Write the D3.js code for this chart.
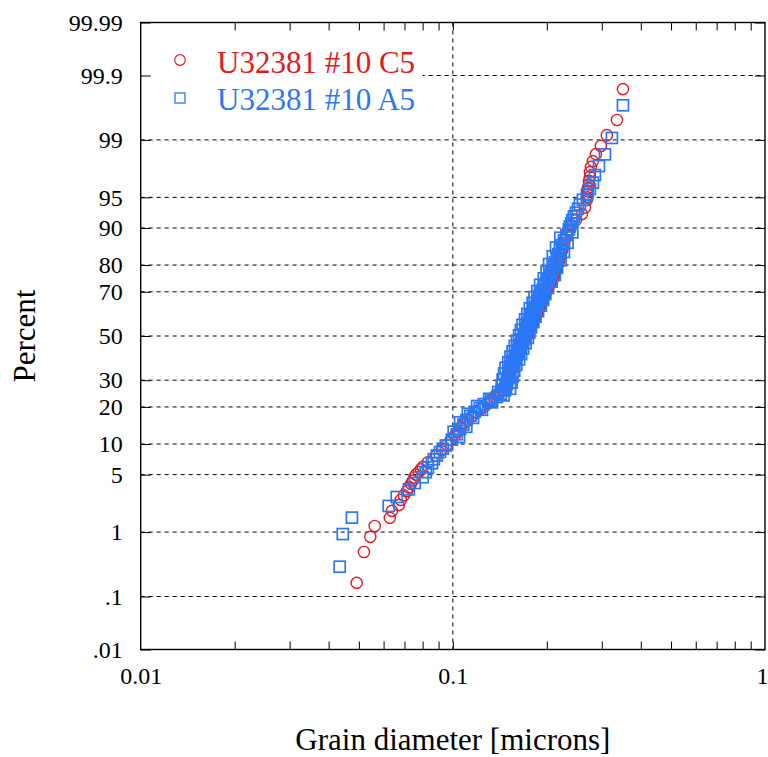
<!DOCTYPE html>
<html>
<head>
<meta charset="utf-8">
<script src="https://cdn.jsdelivr.net/npm/d3@7"></script>
<style>
	body { margin: 0; background: #fff; }
</style>
</head>
<body>
<div id="chart"></div>
<script>
// Sample C5 (red circles): grain diameter [microns] and cumulative percent
var redDiameter = [0.0492, 0.0519, 0.0544, 0.0562, 0.0628, 0.0638, 0.0671, 0.0681, 0.0697, 0.0712,
	0.0723, 0.0734, 0.0744, 0.0753, 0.0761, 0.0778, 0.0790, 0.0801, 0.0832, 0.0882,
	0.0922, 0.0957, 0.0985, 0.1015, 0.1038, 0.1061, 0.1085, 0.1117, 0.1151, 0.1185,
	0.1220, 0.1257, 0.1295, 0.1324, 0.1353, 0.1384, 0.1415, 0.1436, 0.1457, 0.1479,
	0.1501, 0.1523, 0.1500, 0.1517, 0.1534, 0.1545, 0.1557, 0.1569, 0.1580, 0.1592,
	0.1604, 0.1616, 0.1627, 0.1640, 0.1652, 0.1664, 0.1676, 0.1688, 0.1701, 0.1713,
	0.1726, 0.1739, 0.1752, 0.1765, 0.1778, 0.1792, 0.1805, 0.1818, 0.1832, 0.1845,
	0.1858, 0.1873, 0.1887, 0.1900, 0.1914, 0.1929, 0.1943, 0.1957, 0.1972, 0.1986,
	0.2001, 0.2023, 0.2046, 0.2068, 0.2092, 0.2107, 0.2122, 0.2138, 0.2155, 0.2170,
	0.2186, 0.2202, 0.2219, 0.2236, 0.2251, 0.2269, 0.2286, 0.2311, 0.2336, 0.2400,
	0.2479, 0.2591, 0.2649, 0.2688, 0.2698, 0.2708, 0.2708, 0.2708, 0.2728, 0.2728,
	0.2749, 0.2749, 0.2769, 0.2810, 0.2873, 0.2980, 0.3114, 0.3355, 0.3507];
var redPercent = [0.17, 0.52, 0.86, 1.21, 1.55, 1.90, 2.24, 2.59, 2.93, 3.28,
	3.62, 3.97, 4.31, 4.66, 5.00, 5.34, 5.69, 6.03, 6.72, 7.76,
	8.79, 9.83, 10.86, 11.90, 12.93, 13.97, 15.00, 16.03, 17.07, 18.10,
	19.14, 20.17, 21.21, 22.24, 23.28, 24.31, 25.34, 26.38, 27.41, 28.45,
	29.48, 30.52, 31.55, 32.59, 33.62, 34.66, 35.69, 36.72, 37.76, 38.79,
	39.83, 40.86, 41.90, 42.93, 43.97, 45.00, 46.03, 47.07, 48.10, 49.14,
	50.17, 51.21, 52.24, 53.28, 54.31, 55.34, 56.38, 57.41, 58.45, 59.48,
	60.52, 61.55, 62.59, 63.62, 64.66, 65.69, 66.72, 67.76, 68.79, 69.83,
	70.86, 71.90, 72.93, 73.97, 75.00, 76.03, 77.07, 78.10, 79.14, 80.17,
	81.21, 82.24, 83.28, 84.31, 85.34, 86.38, 87.41, 88.45, 89.48, 90.52,
	91.55, 92.59, 93.62, 94.66, 95.00, 95.34, 95.69, 96.03, 96.38, 96.72,
	97.07, 97.41, 97.76, 98.10, 98.45, 98.79, 99.14, 99.48, 99.83];

// Sample A5 (blue squares)
var blueDiameter = [0.0434, 0.0444, 0.0475, 0.0623, 0.0661, 0.0723, 0.0755, 0.0801, 0.0819, 0.0832,
	0.0857, 0.0869, 0.0889, 0.0909, 0.0929, 0.0950, 0.0993, 0.1047, 0.1030, 0.1006,
	0.1053, 0.1104, 0.1081, 0.1055, 0.1105, 0.1161, 0.1138, 0.1117, 0.1176, 0.1240,
	0.1220, 0.1196, 0.1257, 0.1336, 0.1324, 0.1307, 0.1384, 0.1454, 0.1425, 0.1396,
	0.1468, 0.1525, 0.1479, 0.1433, 0.1490, 0.1542, 0.1490, 0.1444, 0.1501, 0.1556,
	0.1506, 0.1459, 0.1517, 0.1573, 0.1523, 0.1475, 0.1534, 0.1597, 0.1551, 0.1505,
	0.1569, 0.1630, 0.1580, 0.1530, 0.1592, 0.1654, 0.1604, 0.1554, 0.1616, 0.1679,
	0.1628, 0.1580, 0.1646, 0.1710, 0.1658, 0.1606, 0.1670, 0.1739, 0.1689, 0.1630,
	0.1689, 0.1757, 0.1707, 0.1651, 0.1714, 0.1780, 0.1726, 0.1672, 0.1739, 0.1810,
	0.1759, 0.1704, 0.1772, 0.1841, 0.1785, 0.1732, 0.1805, 0.1875, 0.1818, 0.1764,
	0.1838, 0.1914, 0.1859, 0.1801, 0.1873, 0.1946, 0.1886, 0.1827, 0.1900, 0.1978,
	0.1922, 0.1865, 0.1943, 0.2018, 0.1957, 0.1903, 0.1987, 0.2072, 0.2016, 0.1956,
	0.2038, 0.2122, 0.2061, 0.1997, 0.2076, 0.2157, 0.2092, 0.2034, 0.2123, 0.2214,
	0.2154, 0.2090, 0.2178, 0.2268, 0.2203, 0.2141, 0.2235, 0.2331, 0.2269, 0.2210,
	0.2311, 0.2415, 0.2354, 0.2371, 0.2398, 0.2416, 0.2442, 0.2479, 0.2516, 0.2553,
	0.2610, 0.2688, 0.2749, 0.2810, 0.2852, 0.2938, 0.3071, 0.3233, 0.3507];
var bluePercent = [0.31, 0.94, 1.56, 2.19, 2.81, 3.44, 4.06, 4.69, 5.31, 5.94,
	6.56, 7.19, 7.81, 8.44, 9.06, 9.69, 10.94, 11.56, 12.19, 12.81,
	13.44, 14.06, 14.69, 15.31, 15.94, 16.56, 17.19, 17.81, 18.44, 19.06,
	19.69, 20.31, 20.94, 21.56, 22.19, 22.81, 23.44, 24.06, 24.69, 25.31,
	25.94, 26.56, 27.19, 27.81, 28.44, 29.06, 29.69, 30.31, 30.94, 31.56,
	32.19, 32.81, 33.44, 34.06, 34.69, 35.31, 35.94, 36.56, 37.19, 37.81,
	38.44, 39.06, 39.69, 40.31, 40.94, 41.56, 42.19, 42.81, 43.44, 44.06,
	44.69, 45.31, 45.94, 46.56, 47.19, 47.81, 48.44, 49.06, 49.69, 50.31,
	50.94, 51.56, 52.19, 52.81, 53.44, 54.06, 54.69, 55.31, 55.94, 56.56,
	57.19, 57.81, 58.44, 59.06, 59.69, 60.31, 60.94, 61.56, 62.19, 62.81,
	63.44, 64.06, 64.69, 65.31, 65.94, 66.56, 67.19, 67.81, 68.44, 69.06,
	69.69, 70.31, 70.94, 71.56, 72.19, 72.81, 73.44, 74.06, 74.69, 75.31,
	75.94, 76.56, 77.19, 77.81, 78.44, 79.06, 79.69, 80.31, 80.94, 81.56,
	82.19, 82.81, 83.44, 84.06, 84.69, 85.31, 85.94, 86.56, 87.19, 87.81,
	88.44, 89.06, 89.69, 90.31, 90.94, 91.56, 92.19, 92.81, 93.44, 94.06,
	94.69, 95.31, 95.94, 96.56, 97.19, 97.81, 98.44, 99.06, 99.69];

// legend names
var seriesNames = ["U32381 #10 C5", "U32381 #10 A5"];

// y ticks (percent) and their labels
var yTicks = [99.99, 99.9, 99, 95, 90, 80, 70, 50, 30, 20, 10, 5, 1, 0.1, 0.01];
var yLabels = ["99.99", "99.9", "99", "95", "90", "80", "70", "50", "30", "20", "10", "5", "1", ".1", ".01"];
var yGrid = [99.9, 99, 95, 90, 80, 70, 50, 30, 20, 10, 5, 1, 0.1];

// x ticks
var xMajor = [0.01, 0.1, 1];
var xLabels = ["0.01", "0.1", "1"];
var xMinor = [0.02, 0.03, 0.04, 0.05, 0.06, 0.07, 0.08, 0.09, 0.2, 0.3, 0.4, 0.5, 0.6, 0.7, 0.8, 0.9];

var red = "#e31a22";
var blue = "#2a78f5";
var serif = "'Liberation Serif', 'Times New Roman', 'DejaVu Serif', serif";

var size = { width: 768, height: 757 };
var plot = { left: 140.7, right: 765, top: 22.5, bottom: 649.5 };

// inverse of the normal cumulative distribution (Acklam)
function probit(p) {
	var a = [-39.69683028665376, 220.9460984245205, -275.9285104469687, 138.3577518672690, -30.66479806614716, 2.506628277459239];
	var b = [-54.47609879822406, 161.5858368580409, -155.6989798598866, 66.80131188771972, -13.28068155288572];
	var c = [-0.007784894002430293, -0.3223964580411365, -2.400758277161838, -2.549732539343734, 4.374664141464968, 2.938163982698783];
	var d = [0.007784695709041462, 0.3224671290700398, 2.445134137142996, 3.754408661907416];
	var pl = 0.02425, q, r;
	if (p < pl) {
		q = Math.sqrt(-2 * Math.log(p));
		return (((((c[0]*q+c[1])*q+c[2])*q+c[3])*q+c[4])*q+c[5]) / ((((d[0]*q+d[1])*q+d[2])*q+d[3])*q+1);
	}
	if (p <= 1 - pl) {
		q = p - 0.5; r = q * q;
		return (((((a[0]*r+a[1])*r+a[2])*r+a[3])*r+a[4])*r+a[5])*q / (((((b[0]*r+b[1])*r+b[2])*r+b[3])*r+b[4])*r+1);
	}
	q = Math.sqrt(-2 * Math.log(1 - p));
	return -(((((c[0]*q+c[1])*q+c[2])*q+c[3])*q+c[4])*q+c[5]) / ((((d[0]*q+d[1])*q+d[2])*q+d[3])*q+1);
}

// scales
var xScale = d3.scaleLog()
	.domain([0.01, 1])
	.range([plot.left, plot.right]);

var zScale = d3.scaleLinear()
	.domain([probit(0.0001), probit(0.9999)])
	.range([plot.bottom, plot.top]);

function yScale(pct) { return zScale(probit(pct / 100)); }

var svg = d3.select("#chart").append("svg")
	.attr("width", size.width)
	.attr("height", size.height);

// horizontal grid
svg.append("g").selectAll("line")
	.data(yGrid)
	.enter().append("line")
	.attr("x1", plot.left).attr("x2", plot.right)
	.attr("y1", yScale).attr("y2", yScale)
	.attr("stroke", "#000")
	.attr("stroke-width", 1)
	.attr("stroke-dasharray", "4,4");

// vertical grid at 0.1
svg.append("line")
	.attr("x1", xScale(0.1)).attr("x2", xScale(0.1))
	.attr("y1", plot.top).attr("y2", plot.bottom)
	.attr("stroke", "#000")
	.attr("stroke-width", 1)
	.attr("stroke-dasharray", "4,4");

// legend box hides the grid under it
svg.append("rect")
	.attr("x", plot.left + 1).attr("y", 38)
	.attr("width", 281).attr("height", 82)
	.attr("fill", "#fff");

// data points, C5 first then A5 on top
var redData = redDiameter.map(function(d, i) { return { d: d, p: redPercent[i] }; });
var blueData = blueDiameter.map(function(d, i) { return { d: d, p: bluePercent[i] }; });

svg.append("g").selectAll("circle")
	.data(redData)
	.enter().append("circle")
	.attr("cx", function(d) { return xScale(d.d); })
	.attr("cy", function(d) { return yScale(d.p); })
	.attr("r", 5.6)
	.attr("fill", "none")
	.attr("stroke", red)
	.attr("stroke-width", 1.4);

svg.append("g").selectAll("rect")
	.data(blueData)
	.enter().append("rect")
	.attr("x", function(d) { return xScale(d.d) - 5.5; })
	.attr("y", function(d) { return yScale(d.p) - 5.5; })
	.attr("width", 11).attr("height", 11)
	.attr("fill", "none")
	.attr("stroke", blue)
	.attr("stroke-width", 1.7);

// minor / major ticks on bottom and top
var xTickAll = xMinor.concat([0.1]);
svg.append("g")
	.attr("transform", "translate(0," + plot.bottom + ")")
	.call(d3.axisBottom(xScale).tickValues(xTickAll).tickSize(-8).tickFormat(""))
	.call(function(g) { g.select(".domain").remove(); });
svg.append("g")
	.attr("transform", "translate(0," + plot.top + ")")
	.call(d3.axisTop(xScale).tickValues(xTickAll).tickSize(-8).tickFormat(""))
	.call(function(g) { g.select(".domain").remove(); });

// y ticks left and right
var zTicks = yTicks.map(function(p) { return probit(p / 100); });
svg.append("g")
	.attr("transform", "translate(" + plot.left + ",0)")
	.call(d3.axisLeft(zScale).tickValues(zTicks).tickSize(-10).tickPadding(18)
		.tickFormat(function(d, i) { return yLabels[i]; }))
	.call(function(g) {
		g.select(".domain").remove();
		g.selectAll("text").attr("font-size", 24).attr("fill", "#000");
	});
svg.append("g")
	.attr("transform", "translate(" + plot.right + ",0)")
	.call(d3.axisRight(zScale).tickValues(zTicks).tickSize(-10).tickFormat(""))
	.call(function(g) { g.select(".domain").remove(); });

// x labels
svg.append("g")
	.attr("transform", "translate(0," + plot.bottom + ")")
	.call(d3.axisBottom(xScale).tickValues(xMajor).tickSize(0).tickPadding(17)
		.tickFormat(function(d, i) { return xLabels[i]; }))
	.call(function(g) {
		g.select(".domain").remove();
		g.selectAll("text").attr("font-size", 24).attr("fill", "#000");
		// keep the last label inside the picture
		g.selectAll("text").filter(function(d) { return d === 1; }).attr("dx", -3);
	});

// frame
svg.append("rect")
	.attr("x", plot.left).attr("y", plot.top)
	.attr("width", plot.right - plot.left)
	.attr("height", plot.bottom - plot.top)
	.attr("fill", "none")
	.attr("stroke", "#000")
	.attr("stroke-width", 1.4);

// axis titles
svg.append("text")
	.attr("x", xScale(0.1))
	.attr("y", 750)
	.attr("text-anchor", "middle")
	.attr("font-size", 31)
	.text("Grain diameter [microns]");

svg.append("text")
	.attr("transform", "translate(35," + zScale(0) + ") rotate(-90)")
	.attr("text-anchor", "middle")
	.attr("font-size", 31)
	.text("Percent");

// legend
var legend = svg.append("g");
legend.append("circle")
	.attr("cx", 180).attr("cy", 60).attr("r", 5.3)
	.attr("fill", "none").attr("stroke", red).attr("stroke-width", 1.2);
legend.append("rect")
	.attr("x", 175).attr("y", 93).attr("width", 10).attr("height", 10)
	.attr("fill", "none").attr("stroke", blue).attr("stroke-width", 1.3);
legend.append("text")
	.attr("x", 217).attr("y", 73)
	.attr("font-size", 31).attr("fill", red)
	.text(seriesNames[0]);
legend.append("text")
	.attr("x", 217).attr("y", 110)
	.attr("font-size", 31).attr("fill", blue)
	.text(seriesNames[1]);

// serif font everywhere
svg.selectAll("text").style("font-family", serif);
</script>
</body>
</html>
